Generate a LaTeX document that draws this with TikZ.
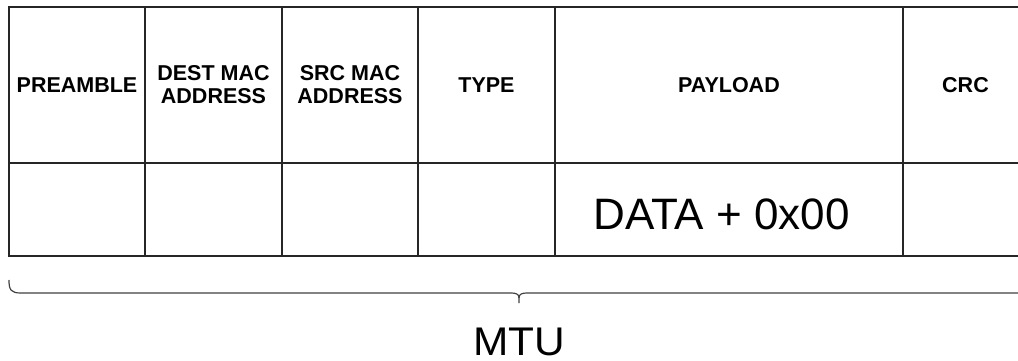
\documentclass[tikz,border=0pt]{standalone}
\usepackage{fontspec}
\setmainfont{Liberation Sans}
\begin{document}
\begin{tikzpicture}[x=1pt,y=-1pt,
  cell/.style={draw=black!85, line width=1.4pt, anchor=north west, inner sep=0pt, outer sep=0pt, align=center},
  headrow/.style={cell, minimum height=156pt, font=\fontsize{21.5}{23}\selectfont\bfseries},
  datarow/.style={cell, minimum height=93pt},
  bigtext/.style={font=\fontsize{44}{44}\selectfont, inner sep=0pt, anchor=base},
  mtutext/.style={font=\fontsize{40}{40}\selectfont, inner sep=0pt, anchor=base},
  braceline/.style={draw=black!75, line width=1.2pt}]
\useasboundingbox (0,0) rectangle (1018,361);
\clip (0,0) rectangle (1018,361);
% header row
\node[headrow, minimum width=136pt] (h1) at (9,7) {PREAMBLE};
\node[headrow, minimum width=137pt] (h2) at (145,7) {DEST MAC\\ADDRESS};
\node[headrow, minimum width=136pt] (h3) at (282,7) {SRC MAC\\ADDRESS};
\node[headrow, minimum width=137pt] (h4) at (418,7) {TYPE};
\node[headrow, minimum width=348pt] (h5) at (555,7) {PAYLOAD};
\node[headrow, minimum width=125pt] (h6) at (903,7) {CRC};
% data row
\node[datarow, minimum width=136pt] (d1) at (9,163) {};
\node[datarow, minimum width=137pt] (d2) at (145,163) {};
\node[datarow, minimum width=136pt] (d3) at (282,163) {};
\node[datarow, minimum width=137pt] (d4) at (418,163) {};
\node[datarow, minimum width=348pt] (d5) at (555,163) {};
\node[datarow, minimum width=125pt] (d6) at (903,163) {};
\node[bigtext] (data) at (721.5,229) {DATA + 0x00};
% brace
\coordinate (bl) at (9,280);
\coordinate (br) at (1029,280);
\coordinate (tip) at (519,303);
\draw[braceline] (bl) .. controls (9,290) and (11,293) .. (21,293) -- (511,293)
  .. controls (516,293) and (519,294) .. (519,298) -- (tip);
\draw[braceline] (519,298) .. controls (519,294) and (522,293) .. (527,293) -- (1017,293)
  .. controls (1027,293) and (1029,290) .. (br);
\node[mtutext] (mtu) at (519,355) {\scalebox{1.06}[1]{MTU}};
\end{tikzpicture}
\end{document}
